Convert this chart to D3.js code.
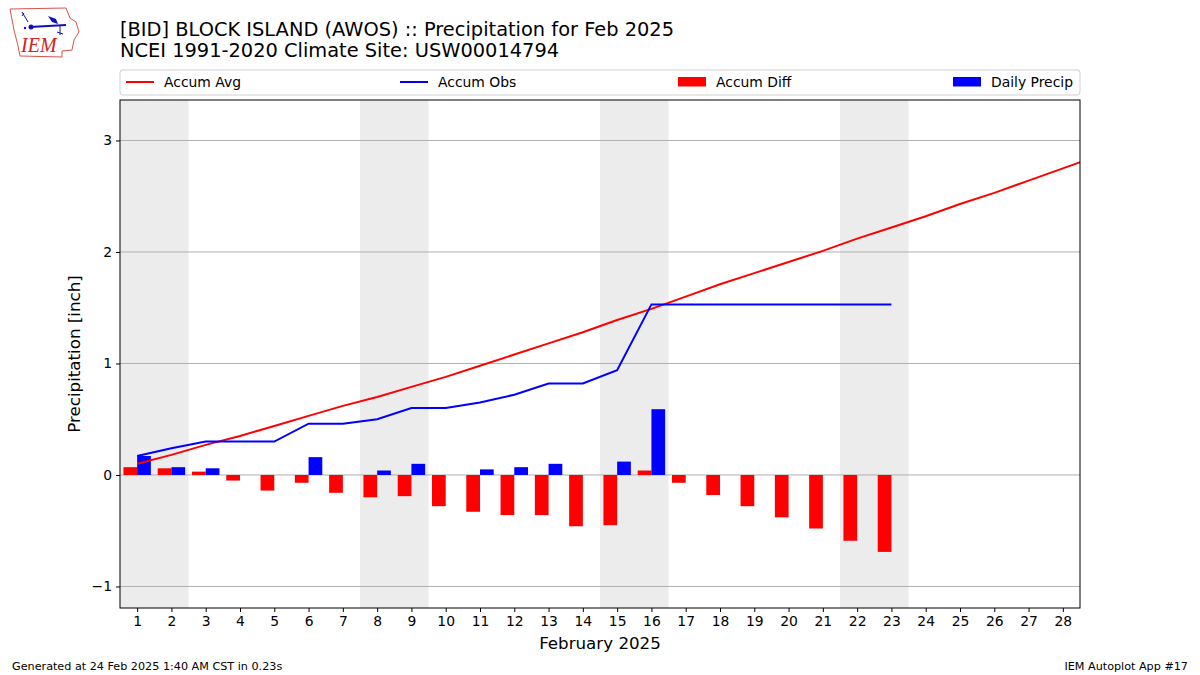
<!DOCTYPE html>
<html><head><meta charset="utf-8">
<script src="https://cdn.jsdelivr.net/npm/d3@7"></script>
<style>body{margin:0;background:#fff}svg{display:block;font-family:"DejaVu Sans",sans-serif}</style>
</head><body><svg id="c" width="1200" height="675"></svg>
<script>
const days = d3.range(1, 29);
const avgDays = d3.range(1, 30);
const accumAvg = [0.10,0.18,0.27,0.35,0.44,0.53,0.62,0.70,0.79,0.88,0.98,1.08,1.18,1.28,1.39,1.49,1.60,1.71,1.81,1.91,2.01,2.12,2.22,2.32,2.43,2.53,2.64,2.75,2.86];
const obsDays = d3.range(1, 24);
const accumObs = [0.17,0.24,0.30,0.30,0.30,0.46,0.46,0.50,0.60,0.60,0.65,0.72,0.82,0.82,0.94,1.53,1.53,1.53,1.53,1.53,1.53,1.53,1.53];
const accumDiff = [0.07,0.06,0.03,-0.05,-0.14,-0.07,-0.16,-0.20,-0.19,-0.28,-0.33,-0.36,-0.36,-0.46,-0.45,0.04,-0.07,-0.18,-0.28,-0.38,-0.48,-0.59,-0.69];
const dailyPrecip = [0.17,0.07,0.06,0,0,0.16,0,0.04,0.10,0,0.05,0.07,0.10,0,0.12,0.59,0,0,0,0,0,0,0];
const weekends = [[1,2],[8,9],[15,16],[22,23]];
const yTicks = [-1,0,1,2,3];
const titleLines = ["[BID] BLOCK ISLAND (AWOS) :: Precipitation for Feb 2025","NCEI 1991-2020 Climate Site: USW00014794"];
const legendItems = [["Accum Avg","line","red"],["Accum Obs","line","blue"],["Accum Diff","rect","red"],["Daily Precip","rect","blue"]];

const svg = d3.select("#c");
const L=120,R=1080,T=100,B=608;
const x = d3.scaleLinear().domain([0.5,28.5]).range([L,R]);
const y = d3.scaleLinear().domain([-1.193,3.363]).range([B,T]);

// title
svg.selectAll("text.title").data(titleLines).join("text")
  .attr("x",120).attr("y",(d,i)=>36+i*21).attr("font-size",19.4).attr("fill","#000").text(d=>d);

// logo
const lg = svg.append("g");
lg.append("path").attr("d","M10,9 L66,8 L70,18 L76,22 L79,32 L74,40 L72,50 L62,51 L62,57 L20,56 L18,46 L14,30 Z")
  .attr("fill","none").attr("stroke","#d9534f").attr("stroke-width",1);
lg.append("text").attr("x",21).attr("y",52).attr("font-family","Liberation Serif,serif").attr("font-style","italic")
  .attr("font-size",20).attr("fill","#d42020").text("IEM");
lg.append("line").attr("x1",30).attr("y1",27).attr("x2",66).attr("y2",25).attr("stroke","#1010c0").attr("stroke-width",2);
lg.append("circle").attr("cx",31).attr("cy",27).attr("r",2.5).attr("fill","#1010c0");
lg.append("path").attr("d","M48,16 L56,19 L58,24 L52,22 Z").attr("fill","#1010c0");
lg.append("path").attr("d","M22,12 L28,22 M24,13 L22,16").attr("stroke","#1010c0").attr("fill","none");
lg.append("path").attr("d","M60,25 L60,35 M57,32 L63,34").attr("stroke","#1010c0").attr("fill","none");
lg.append("circle").attr("cx",25).attr("cy",28).attr("r",1.2).attr("fill","#1010c0");

// plot bg + weekends
const pg = svg.append("g");
pg.selectAll("rect.wk").data(weekends).join("rect")
  .attr("x",d=>x(d[0]-0.5)).attr("width",d=>x(d[1]+0.5)-x(d[0]-0.5))
  .attr("y",T).attr("height",B-T).attr("fill","#ececec");

// grid
pg.selectAll("line.grid").data(yTicks).join("line")
  .attr("x1",L).attr("x2",R).attr("y1",d=>y(d)).attr("y2",d=>y(d))
  .attr("stroke","#b0b0b0").attr("stroke-width",1);

// bars
pg.selectAll("rect.diff").data(accumDiff).join("rect")
  .attr("x",(d,i)=>x(obsDays[i]-0.4)).attr("width",x(1.4)-x(1))
  .attr("y",d=>y(Math.max(0,d))).attr("height",d=>Math.abs(y(d)-y(0))).attr("fill","red");
pg.selectAll("rect.dp").data(dailyPrecip).join("rect")
  .attr("x",(d,i)=>x(obsDays[i])).attr("width",x(1.4)-x(1))
  .attr("y",d=>y(Math.max(0,d))).attr("height",d=>Math.abs(y(d)-y(0))).attr("fill","blue");

// lines
svg.append("clipPath").attr("id","clip").append("rect").attr("x",L).attr("y",T).attr("width",R-L).attr("height",B-T);
const line = d3.line().x(d=>x(d[0])).y(d=>y(d[1]));
pg.append("path").datum(avgDays.map((d,i)=>[d,accumAvg[i]])).attr("d",line)
  .attr("fill","none").attr("stroke","red").attr("stroke-width",2).attr("clip-path","url(#clip)");
pg.append("path").datum(obsDays.map((d,i)=>[d,accumObs[i]])).attr("d",line)
  .attr("fill","none").attr("stroke","blue").attr("stroke-width",2).attr("clip-path","url(#clip)");

// frame
svg.append("rect").attr("x",L).attr("y",T).attr("width",R-L).attr("height",B-T).attr("fill","none").attr("stroke","#000").attr("stroke-width",1);

// axes
const ya = svg.append("g").attr("transform",`translate(${L},0)`)
  .call(d3.axisLeft(y).tickValues(yTicks).tickSize(4).tickPadding(4).tickFormat(d=>d<0?"\u2212"+Math.abs(d):d));
ya.select(".domain").remove();
ya.selectAll("text").attr("font-size",13.9).attr("font-family","DejaVu Sans").attr("fill","#000");
const xa = svg.append("g").attr("transform",`translate(0,${B})`)
  .call(d3.axisBottom(x).tickValues(days).tickSize(4).tickPadding(4).tickFormat(d3.format("d")));
xa.select(".domain").remove();
xa.selectAll("text").attr("font-size",13.9).attr("font-family","DejaVu Sans").attr("fill","#000");

svg.append("text").attr("transform","translate(80,354) rotate(-90)").attr("text-anchor","middle")
  .attr("font-size",16.7).text("Precipitation [inch]");
svg.append("text").attr("x",600).attr("y",649).attr("text-anchor","middle").attr("font-size",16.7).text("February 2025");

// legend
const lgd = svg.append("g");
lgd.append("rect").attr("x",L).attr("y",70).attr("width",R-L).attr("height",25).attr("rx",3)
  .attr("fill","#fff").attr("stroke","#d0d0d0");
const lx = [126,400,678,953];
legendItems.forEach((it,i)=>{
  if(it[1]==="line") lgd.append("line").attr("x1",lx[i]).attr("x2",lx[i]+28).attr("y1",82).attr("y2",82).attr("stroke",it[2]).attr("stroke-width",2);
  else lgd.append("rect").attr("x",lx[i]).attr("y",77).attr("width",28).attr("height",9.5).attr("fill",it[2]);
  lgd.append("text").attr("x",lx[i]+38).attr("y",87).attr("font-size",13.9).text(it[0]);
});

// footer
svg.append("text").attr("x",12).attr("y",670).attr("font-size",11.2).text("Generated at 24 Feb 2025 1:40 AM CST in 0.23s");
svg.append("text").attr("x",1188).attr("y",670).attr("text-anchor","end").attr("font-size",11.2).text("IEM Autoplot App #17");
</script></body></html>
